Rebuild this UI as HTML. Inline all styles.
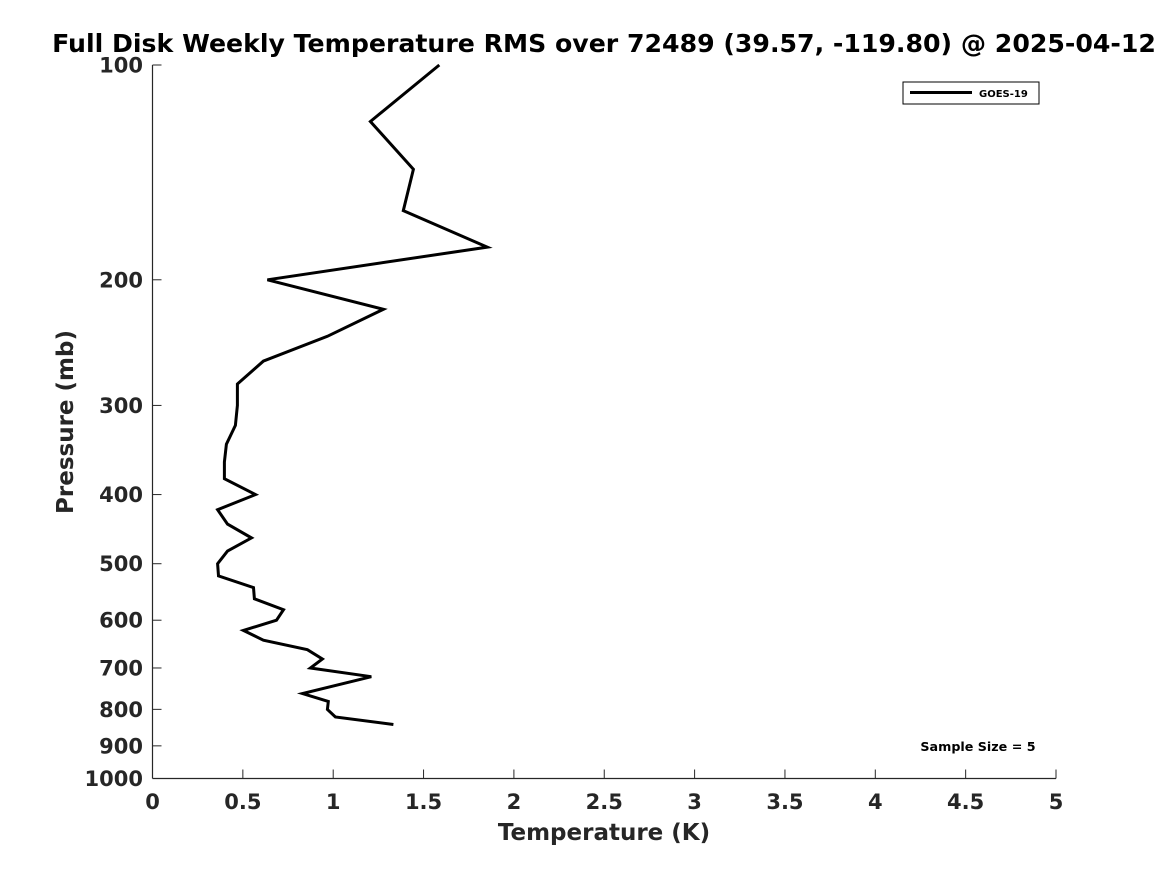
<!DOCTYPE html>
<html><head><meta charset="utf-8"><style>
html,body{margin:0;padding:0;background:#fff;}
svg{display:block;font-family:"DejaVu Sans","Liberation Sans",sans-serif;font-weight:bold;}
</style></head><body>
<svg id="chart" width="1167" height="875" viewBox="0 0 1167 875">
<text x="604" y="52" text-anchor="middle" font-size="25.2" fill="#000">Full Disk Weekly Temperature RMS over 72489 (39.57, -119.80) @ 2025-04-12</text>
<g id="axes"></g>
<polyline id="line" fill="none" stroke="#000" stroke-width="3" stroke-linejoin="miter"/>
<text x="73" y="422" text-anchor="middle" font-size="23" fill="#262626" transform="rotate(-90 73 422)">Pressure (mb)</text>
<text x="604" y="840" text-anchor="middle" font-size="23" fill="#262626">Temperature (K)</text>
<g>
<rect x="903" y="82" width="136" height="22" fill="#fff" stroke="#000" stroke-width="1"/>
<line x1="910" y1="92.5" x2="972" y2="92.5" stroke="#000" stroke-width="3"/>
<text x="979" y="97" font-size="10" fill="#000">GOES-19</text>
</g>
<text x="978" y="751" text-anchor="middle" font-size="12.7" fill="#000">Sample Size = 5</text>
</svg>
<script>
const temps=[1.587,1.206,1.444,1.388,1.853,0.636,1.278,0.968,0.614,0.470,0.470,0.459,0.409,0.398,0.398,0.570,0.360,0.415,0.548,0.415,0.360,0.365,0.559,0.564,0.725,0.686,0.503,0.614,0.857,0.940,0.874,1.211,0.830,0.973,0.968,1.012,1.333];
const pressures=[100,120,140,160,180,200,220,240,260,280,300,320,340,360,380,400,420,440,460,480,500,520,540,560,580,600,620,640,660,680,700,720,760,780,800,820,840];
const xTicks=[0,0.5,1,1.5,2,2.5,3,3.5,4,4.5,5];
const xTickLabels=["0","0.5","1","1.5","2","2.5","3","3.5","4","4.5","5"];
const yTicks=[100,200,300,400,500,600,700,800,900,1000];
const yTickLabels=["100","200","300","400","500","600","700","800","900","1000"];

const X0=152.5,X1=1056,Y0=65,Y1=778.5;
function xs(v){return X0+(v-0)/(5-0)*(X1-X0);}
function ys(p){return Y0+Math.log10(p/100)*(Y1-Y0);}
const NS="http://www.w3.org/2000/svg";
const axes=document.getElementById('axes');
function mk(tag,attrs){const e=document.createElementNS(NS,tag);for(const k in attrs)e.setAttribute(k,attrs[k]);return e;}
let a=mk('line',{x1:X0,y1:Y0,x2:X0,y2:Y1,stroke:'#262626','stroke-width':1.2});


axes.appendChild(a);
a=mk('line',{x1:X0,y1:Y1,x2:X1,y2:Y1,stroke:'#262626','stroke-width':1.2});


axes.appendChild(a);
xTicks.forEach((v,i)=>{
  const x=xs(v);
  const t=mk('line',{x1:x,y1:Y1,x2:x,y2:Y1-9,stroke:'#262626','stroke-width':1});
  
  
  axes.appendChild(t);
  const l=mk('text',{x:x,y:809,'text-anchor':'middle','font-size':21,fill:'#262626'});
  l.textContent=xTickLabels[i];
  
  
  axes.appendChild(l);
});
yTicks.forEach((p,i)=>{
  const y=ys(p);
  const t=mk('line',{x1:X0,y1:y,x2:X0+9,y2:y,stroke:'#262626','stroke-width':1});
  
  
  axes.appendChild(t);
  const l=mk('text',{x:143,y:y+7.5,'text-anchor':'end','font-size':21,fill:'#262626'});
  l.textContent=yTickLabels[i];
  
  
  axes.appendChild(l);
});
document.getElementById('line').setAttribute('points',temps.map((t,i)=>xs(t).toFixed(1)+','+ys(pressures[i]).toFixed(1)).join(' '));
</script>
</body></html>
